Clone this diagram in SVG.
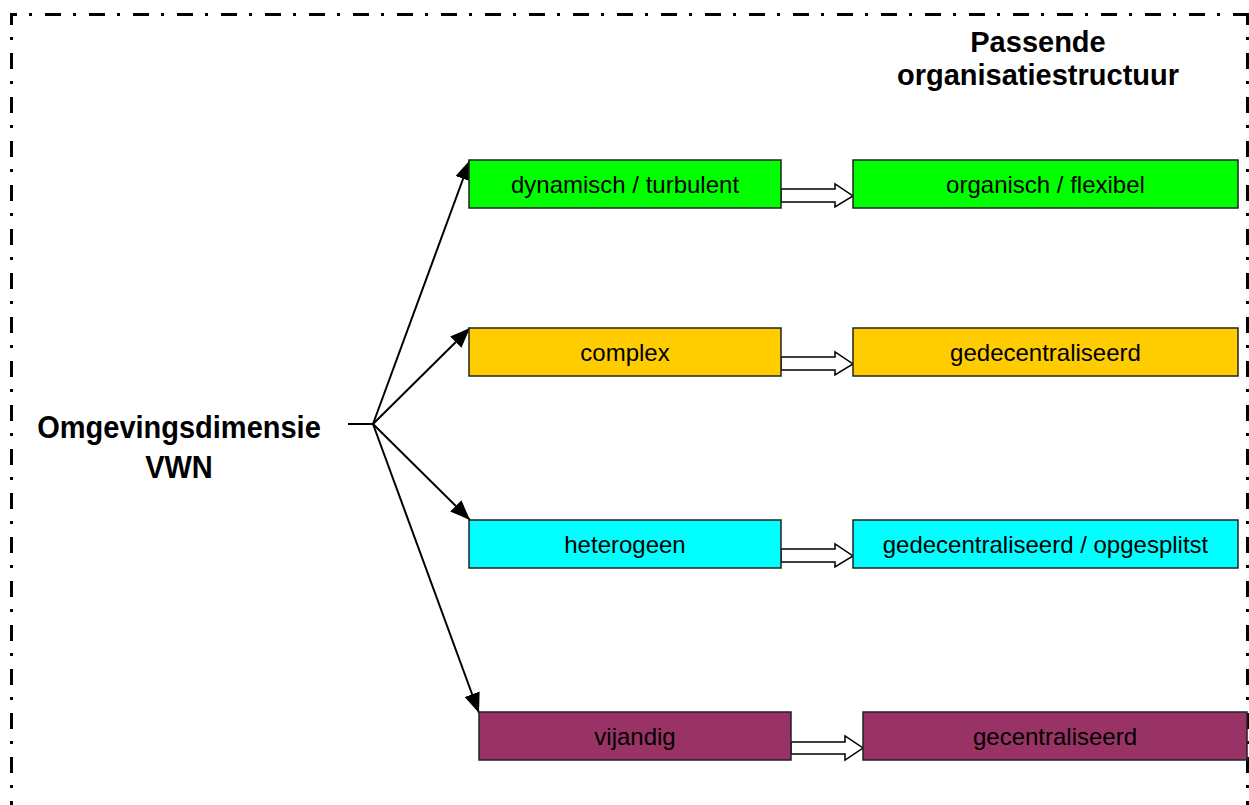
<svg xmlns="http://www.w3.org/2000/svg" width="1249" height="805" viewBox="0 0 1249 805">
  <defs>
    <style>
      .frame { stroke: #000; stroke-width: 3; stroke-dasharray: 16 12 3 13; fill: none; }
      .box { stroke: #222; stroke-width: 1.5; }
      .lbl { font-family: "Liberation Sans", Arial, sans-serif; font-size: 24px; fill: #000; text-anchor: middle; }
      .head { font-family: "Liberation Sans", Arial, sans-serif; font-size: 29px; font-weight: bold; fill: #000; text-anchor: middle; }
      .link { stroke: #000; stroke-width: 2; fill: none; marker-end: url(#tip); }
      .flow { fill: #fff; stroke: #000; stroke-width: 1.5; stroke-linejoin: miter; }
      .green { fill: #00ff00; }
      .orange { fill: #ffcc00; }
      .cyan { fill: #00ffff; }
      .plum { fill: #993366; }
    </style>
    <marker id="tip" markerUnits="userSpaceOnUse" markerWidth="22" markerHeight="18" refX="20" refY="8" orient="auto">
      <path d="M0,0 L20,8 L0,16 Z" fill="#000"/>
    </marker>
  </defs>

  <rect width="1249" height="805" fill="#fff"/>

  <!-- dash-dot frame -->
  <g id="frame">
    <line class="frame" x1="10" y1="14.5" x2="1249" y2="14.5" stroke-dashoffset="9"/>
    <line class="frame" x1="11.5" y1="13" x2="11.5" y2="805" stroke-dashoffset="4"/>
    <line class="frame" x1="1247.5" y1="13" x2="1247.5" y2="805" stroke-dashoffset="4"/>
  </g>

  <!-- headings -->
  <g id="title">
    <text class="head" x="1038" y="52">Passende</text>
    <text class="head" x="1038" y="85">organisatiestructuur</text>
  </g>
  <g id="source">
    <text class="head" transform="translate(179,438) scale(1,1.08)">Omgevingsdimensie</text>
    <text class="head" transform="translate(179,478) scale(1,1.08)">VWN</text>
  </g>

  <!-- connectors -->
  <g id="connectors">
    <line x1="348" y1="424" x2="373" y2="424" stroke="#000" stroke-width="2"/>
    <line class="link" x1="373" y1="424" x2="470" y2="160"/>
    <line class="link" x1="373" y1="424" x2="470" y2="328"/>
    <line class="link" x1="373" y1="424" x2="470" y2="520"/>
    <line class="link" x1="373" y1="424" x2="479" y2="713"/>
    <path class="flow" d="M781,189 L835,189 L835,184 L853,196 L835,207 L835,202 L781,202 Z"/>
    <path class="flow" d="M781,357 L835,357 L835,352 L853,364 L835,375 L835,370 L781,370 Z"/>
    <path class="flow" d="M781,549 L835,549 L835,544 L853,556 L835,567 L835,562 L781,562 Z"/>
    <path class="flow" d="M791,742 L845,742 L845,736 L863,748 L845,760 L845,754 L791,754 Z"/>
  </g>

  <!-- environment dimensions -->
  <g id="dynamisch">
    <rect class="box green" x="469" y="160" width="312" height="48"/>
    <text class="lbl" x="625" y="193">dynamisch / turbulent</text>
  </g>
  <g id="complex">
    <rect class="box orange" x="469" y="328" width="312" height="48"/>
    <text class="lbl" x="625" y="361">complex</text>
  </g>
  <g id="heterogeen">
    <rect class="box cyan" x="469" y="520" width="312" height="48"/>
    <text class="lbl" x="625" y="553">heterogeen</text>
  </g>
  <g id="vijandig">
    <rect class="box plum" x="479" y="712" width="312" height="48"/>
    <text class="lbl" x="635" y="745">vijandig</text>
  </g>

  <!-- matching structures -->
  <g id="organisch">
    <rect class="box green" x="853" y="160" width="385" height="48"/>
    <text class="lbl" x="1045.5" y="193">organisch / flexibel</text>
  </g>
  <g id="gedecentraliseerd">
    <rect class="box orange" x="853" y="328" width="385" height="48"/>
    <text class="lbl" x="1045.5" y="361">gedecentraliseerd</text>
  </g>
  <g id="opgesplitst">
    <rect class="box cyan" x="853" y="520" width="385" height="48"/>
    <text class="lbl" x="1045.5" y="553">gedecentraliseerd / opgesplitst</text>
  </g>
  <g id="gecentraliseerd">
    <rect class="box plum" x="863" y="712" width="384" height="48"/>
    <text class="lbl" x="1055" y="745">gecentraliseerd</text>
  </g>
</svg>
